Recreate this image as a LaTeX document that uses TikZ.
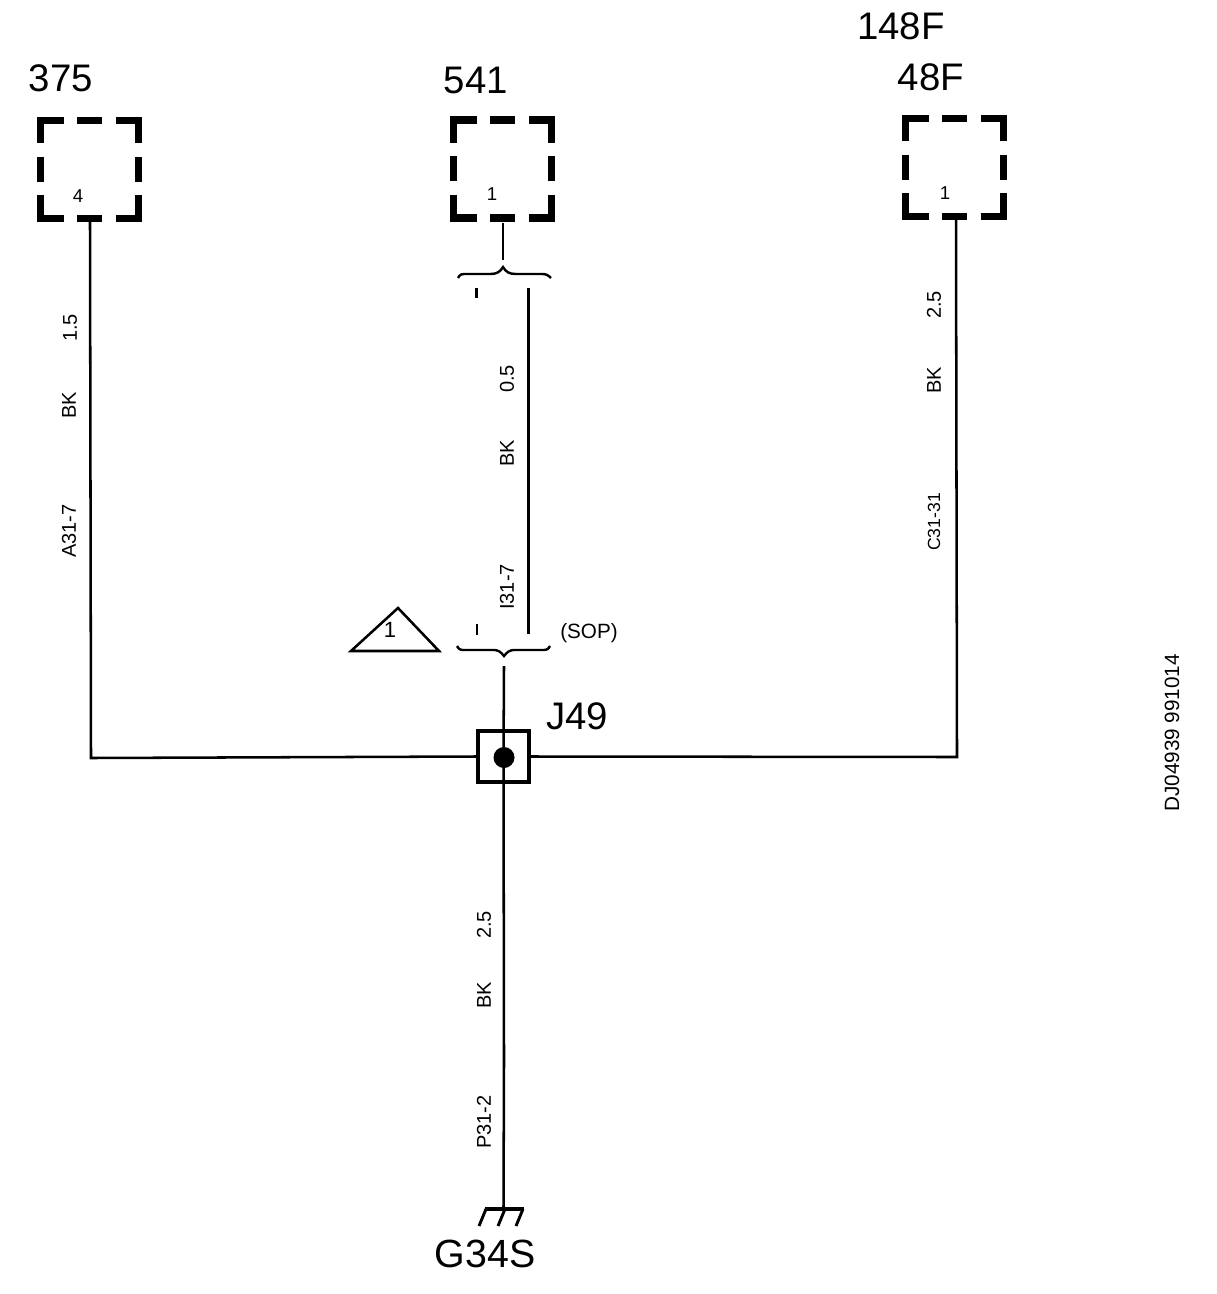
\documentclass[tikz,border=0pt]{standalone}
\usepackage{fontspec}
\setmainfont{Liberation Sans}
\newcommand{\dashedconn}[1]{%
  \draw[connbox] ([xshift=-49*0.75pt,yshift=-26*0.75pt]#1.center) |- ([xshift=-26*0.75pt,yshift=-49*0.75pt]#1.center);
  \draw[connbox] ([xshift=-12.5*0.75pt,yshift=-49*0.75pt]#1.center) -- ([xshift=12.5*0.75pt,yshift=-49*0.75pt]#1.center);
  \draw[connbox] ([xshift=26*0.75pt,yshift=-49*0.75pt]#1.center) -| ([xshift=49*0.75pt,yshift=-26*0.75pt]#1.center);
  \draw[connbox] ([xshift=49*0.75pt,yshift=-12.5*0.75pt]#1.center) -- ([xshift=49*0.75pt,yshift=12.5*0.75pt]#1.center);
  \draw[connbox] ([xshift=49*0.75pt,yshift=26*0.75pt]#1.center) |- ([xshift=26*0.75pt,yshift=49*0.75pt]#1.center);
  \draw[connbox] ([xshift=12.5*0.75pt,yshift=49*0.75pt]#1.center) -- ([xshift=-12.5*0.75pt,yshift=49*0.75pt]#1.center);
  \draw[connbox] ([xshift=-26*0.75pt,yshift=49*0.75pt]#1.center) -| ([xshift=-49*0.75pt,yshift=26*0.75pt]#1.center);
  \draw[connbox] ([xshift=-49*0.75pt,yshift=12.5*0.75pt]#1.center) -- ([xshift=-49*0.75pt,yshift=-12.5*0.75pt]#1.center);
}
\tikzset{
  connbox/.style={line width=5.4pt,line cap=butt,miter limit=10},
  connarea/.style={rectangle,minimum width=105*0.75pt,minimum height=105*0.75pt,inner sep=0pt},
  wire/.style={line width=1.9pt,line cap=butt,line join=miter},
  bigtext/.style={inner sep=0pt,font=\fontsize{28.8pt}{30pt}\selectfont},
  midtext/.style={inner sep=0pt,font=\fontsize{16.5pt}{18pt}\selectfont},
  pintext/.style={inner sep=0pt,font=\fontsize{14pt}{16pt}\selectfont},
  wiretext/.style={inner sep=0pt,rotate=90,font=\fontsize{15pt}{17pt}\selectfont},
}
\begin{document}
\begin{tikzpicture}[x=0.75pt,y=-0.75pt]
\useasboundingbox (0,0) rectangle (1216,1294);
% titles
\node[bigtext] (t375) at (61,78) {375};
\node[bigtext] (t541) at (476,80) {541};
\node[bigtext] (t148) at (901,26) {148F};
\node[bigtext] (t48) at (931,77) {48F};
% connectors
\node[connarea] (c375) at (89.5,169.5) {};
\node[connarea] (c541) at (502.5,169) {};
\node[connarea] (c48) at (954.5,167.5) {};
\dashedconn{c375}
\dashedconn{c541}
\dashedconn{c48}
\node[pintext] (p375) at (78,196) {4};
\node[pintext] (p541) at (492,194) {1};
\node[pintext] (p48) at (945,193) {1};
% junction
\node[draw,line width=3pt,rectangle,minimum width=51*0.75pt,minimum height=51*0.75pt,inner sep=0pt] (j49) at (503.5,756.5) {};
\node[bigtext] (tj49) at (577,716) {J49};
% wire way points
\coordinate (w1) at (91,758);
\coordinate (w2) at (957,757);
\coordinate (ubrace) at (503,267);
\coordinate (lbrace) at (504,666);
\coordinate (ltickA) at (476.5,288);
\coordinate (ltickB) at (476.5,298);
\coordinate (ltickC) at (477,624);
\coordinate (ltickD) at (477,635);
\coordinate (rtickA) at (528.5,288);
\coordinate (rtickB) at (528.5,634);
\coordinate (gnd) at (503.5,1208);
% wires
\draw[wire] (90,222) -- (w1) -- (j49.west);
\draw[wire] (956,220) -- (w2) -- (j49.east);
\draw[wire] (503,223) -- (503,260);
\draw[wire] (rtickA) -- (rtickB);
\draw[wire] (ltickA) -- (ltickB);
\draw[wire] (ltickC) -- (ltickD);
\draw[wire] (lbrace) -- (j49.center);
\draw[wire] (j49.center) -- (504,1060) -- (gnd);
% splice dot
\node[fill=black,circle,minimum size=21*0.75pt,inner sep=0pt] (dot) at (504,757.5) {};
% braces
\draw[line width=1.8pt] (458,278) .. controls (460,274) and (462,274) .. (466,274) -- (490,274) .. controls (497,274) and (500,272) .. (ubrace) .. controls (506,272) and (509,274) .. (516,274) -- (542,274) .. controls (546,274) and (548,275) .. (551,278);
\draw[line width=1.8pt] (457,646) .. controls (459,650) and (461,650) .. (465,650) -- (494,650) .. controls (498,650) and (501,652) .. (504,656) .. controls (507,652) and (510,650) .. (514,650) -- (542,650) .. controls (546,650) and (548,650) .. (550,646);
% triangle
\coordinate (ta) at (351,651);
\coordinate (tb) at (398,608);
\coordinate (tc) at (439,651);
\draw[line width=1.9pt,line join=miter] (ta) -- (tb) -- (tc) -- cycle;
\node[midtext] (t1) at (390,630) {1};
\node[inner sep=0pt,font=\fontsize{15.5pt}{17pt}\selectfont] (sop) at (589,633) {(SOP)};
% ground
\coordinate (ga) at (485,1209);
\coordinate (gb) at (524,1209);
\draw[line width=3pt] (ga) -- (gb);
\draw[line width=2.2pt] (486,1209) -- (479,1226);
\draw[line width=2.2pt] (505,1209) -- (498,1226);
\draw[line width=2.2pt] (523,1209) -- (516,1226);
\node[inner sep=0pt,font=\fontsize{29.5pt}{31pt}\selectfont] (g34) at (485,1254) {G34S};
% wire labels
\node[wiretext] (a1) at (70,328) {1.5};
\node[wiretext] (a2) at (69,405) {BK};
\node[wiretext] (a3) at (69,531) {A31-7};
\node[wiretext] (b1) at (507,379) {0.5};
\node[wiretext] (b2) at (507,453) {BK};
\node[wiretext] (b3) at (507,587) {I31-7};
\node[wiretext] (c1) at (934,305) {2.5};
\node[wiretext] (c2) at (934,380) {BK};
\node[wiretext,font=\fontsize{13.2pt}{15pt}\selectfont] (c3) at (934,522) {C31-31};
\node[wiretext] (d1) at (484,925) {2.5};
\node[wiretext] (d2) at (484,995) {BK};
\node[wiretext] (d3) at (484,1122) {P31-2};
\node[wiretext,font=\fontsize{15.5pt}{17pt}\selectfont] (code) at (1172,733) {DJ04939 991014};
\end{tikzpicture}
\end{document}
